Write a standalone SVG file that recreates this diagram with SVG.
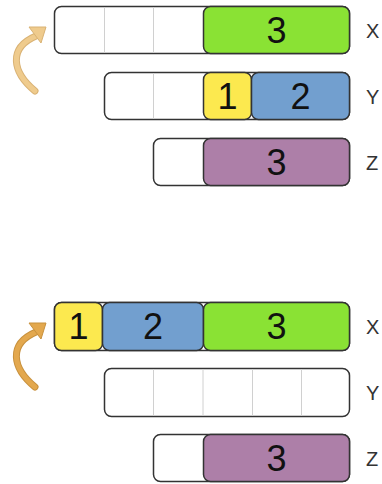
<svg xmlns="http://www.w3.org/2000/svg" width="382" height="484" viewBox="0 0 382 484">
<style>
.box{fill:#fff;stroke:#333;stroke-width:1.5}
.div{stroke:#d0d0d0;stroke-width:1}
.b{stroke:#333;stroke-width:1.5}
.g{fill:#8ae234}.y{fill:#fce94f}.bl{fill:#729fcf}.p{fill:#ad7fa8}
.n{font-family:"Liberation Sans",Arial,sans-serif;font-size:36px;fill:#111;text-anchor:middle}
.l{font-family:"Liberation Sans",Arial,sans-serif;font-size:20px;fill:#333}
</style>
<rect width="382" height="484" fill="#fff"/>
<g id="top-x">
<rect class="box" x="54.5" y="6.5" width="295" height="47" rx="7"/>
<line class="div" x1="104.5" y1="7" x2="104.5" y2="53"/>
<line class="div" x1="153.5" y1="7" x2="153.5" y2="53"/>
<rect class="b g" x="203.5" y="6.5" width="146" height="47" rx="7"/>
<text class="n" x="276.5" y="43">3</text>
<text class="l" x="366" y="38">X</text>
</g>
<g id="top-y">
<rect class="box" x="104.5" y="72.5" width="245" height="47" rx="7"/>
<line class="div" x1="153.5" y1="73" x2="153.5" y2="119"/>
<rect class="b y" x="203.5" y="72.5" width="48" height="47" rx="7"/>
<rect class="b bl" x="251.5" y="72.5" width="98" height="47" rx="7"/>
<text class="n" x="227.5" y="109">1</text>
<text class="n" x="300.5" y="109">2</text>
<text class="l" x="366" y="104">Y</text>
</g>
<g id="top-z">
<rect class="box" x="153.5" y="138.5" width="196" height="47" rx="7"/>
<rect class="b p" x="203.5" y="138.5" width="146" height="47" rx="7"/>
<text class="n" x="276.5" y="175">3</text>
<text class="l" x="366" y="170">Z</text>
</g>
<g id="bot-x">
<rect class="box" x="54.5" y="302.5" width="295" height="48" rx="7"/>
<rect class="b y" x="54.5" y="302.5" width="48" height="48" rx="7"/>
<rect class="b bl" x="102.5" y="302.5" width="101" height="48" rx="7"/>
<rect class="b g" x="203.5" y="302.5" width="146" height="48" rx="7"/>
<text class="n" x="78.5" y="339">1</text>
<text class="n" x="153" y="339">2</text>
<text class="n" x="276.5" y="339">3</text>
<text class="l" x="366" y="334">X</text>
</g>
<g id="bot-y">
<rect class="box" x="104.5" y="368.5" width="245" height="48" rx="7"/>
<line class="div" x1="153.5" y1="369" x2="153.5" y2="416"/>
<line class="div" x1="203" y1="369" x2="203" y2="416"/>
<line class="div" x1="252.5" y1="369" x2="252.5" y2="416"/>
<line class="div" x1="301.5" y1="369" x2="301.5" y2="416"/>
<text class="l" x="366" y="400">Y</text>
</g>
<g id="bot-z">
<rect class="box" x="153.5" y="434.5" width="196" height="47" rx="7"/>
<rect class="b p" x="203.5" y="434.5" width="146" height="47" rx="7"/>
<text class="n" x="276.5" y="471">3</text>
<text class="l" x="366" y="466">Z</text>
</g>
<g id="connectors">
<g>
<path d="M35,91 C12,72 8,48 36,36" fill="none" stroke="#d9b274" stroke-width="7" stroke-linecap="round"/>
<path d="M35,91 C12,72 8,48 36,36" fill="none" stroke="#efcb8d" stroke-width="5" stroke-linecap="round"/>
<polygon points="29,27 46,27 41,43" fill="#efcb8d" stroke="#d9b274" stroke-width="1" stroke-linejoin="round"/>
</g>
<g>
<path d="M35,387 C12,368 8,344 36,332" fill="none" stroke="#c8913d" stroke-width="7" stroke-linecap="round"/>
<path d="M35,387 C12,368 8,344 36,332" fill="none" stroke="#e3a84e" stroke-width="5" stroke-linecap="round"/>
<polygon points="29,323 46,323 41,339" fill="#e3a84e" stroke="#c8913d" stroke-width="1" stroke-linejoin="round"/>
</g>
</g>
</svg>
